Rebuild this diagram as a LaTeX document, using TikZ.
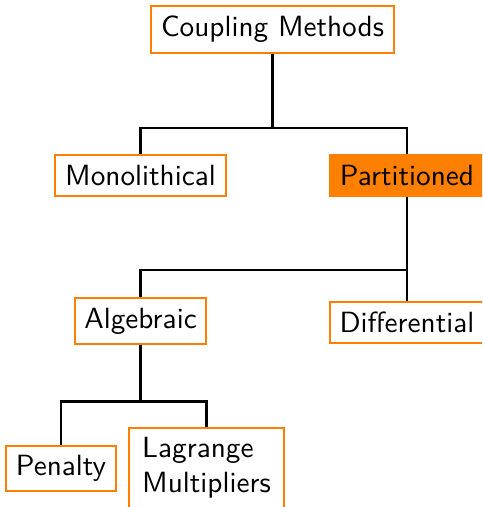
\documentclass[tikz,border=0pt]{standalone}
\usepackage{tikz}
\definecolor{boxorange}{RGB}{255,128,0}
\begin{document}
\begin{tikzpicture}[x=0.342pt,y=-0.342pt,
  box/.style={draw=boxorange,line width=0.7pt,fill=white,font=\sffamily,inner sep=3.33pt},
  hibox/.style={box,fill=boxorange},
  conn/.style={draw=black,line width=0.7pt}]
\clip (0,0) rectangle (482,507);
\node[box]   (cm)   at (272.5,29.5) {Coupling Methods};
\node[box]   (mono) at (140.5,175.5) {Monolithical};
\node[hibox] (part) at (407,175.5) {Partitioned};
\node[box]   (alg)  at (140.5,321) {Algebraic};
\node[box]   (diff) at (407,322.5) {Differential};
\node[box]   (pen)  at (61,468.5) {Penalty};
\node[box,align=left,minimum width=53pt] (lag) at (206.5,468) {Lagrange\\Multipliers};
\coordinate (f1) at (272.5,128);
\coordinate (f2) at (407,270);
\coordinate (f3) at (140.5,401.5);
\draw[conn] (cm.south) -- (f1);
\draw[conn] (f1) -| (mono.north);
\draw[conn] (f1) -| (part.north);
\draw[conn] (part.south) -- (f2);
\draw[conn] (f2) -| (alg.north);
\draw[conn] (f2) -| (diff.north);
\draw[conn] (alg.south) -- (f3);
\draw[conn] (f3) -| (pen.north);
\draw[conn] (f3) -| (lag.north);
\end{tikzpicture}
\end{document}
